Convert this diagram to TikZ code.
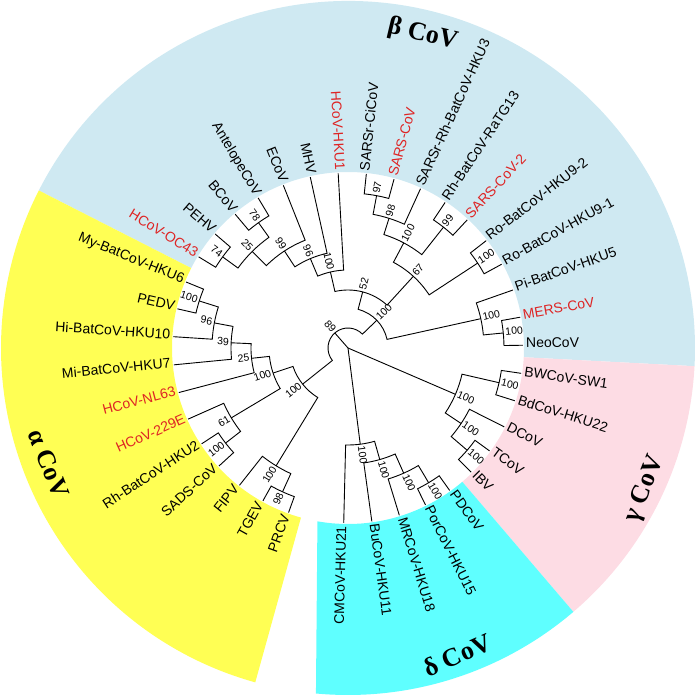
\documentclass[tikz,border=0pt]{standalone}
\usepackage{fontspec}
\setmainfont{Liberation Sans}
\newfontfamily\clfont{Liberation Serif}
\definecolor{betac}{RGB}{207,233,242}
\definecolor{alphac}{RGB}{255,255,84}
\definecolor{gammac}{RGB}{253,220,228}
\definecolor{deltac}{RGB}{95,255,255}
\definecolor{redlab}{RGB}{222,36,36}
\newcommand\getang[1]{\csname ang#1\endcsname}
\newcommand\mkleaf[4]{%
  \pgfmathsetmacro\lang{148.6-360/39*#2}%
  \ifnum#2>27 \pgfmathsetmacro\lang{\lang+360}\fi
  \expandafter\xdef\csname ang#1\endcsname{\lang}%
  \coordinate (#1) at (\lang:175);
  \pgfmathsetmacro\flipv{(\lang>90 || \lang<-90) ? 1 : 0}%
  \ifdim\flipv pt>0.5pt
    \node[leaflab,text=#4,rotate=\lang-180,anchor=mid east] (#1-t) at (\lang:178) {#3};
  \else
    \node[leaflab,text=#4,rotate=\lang,anchor=mid west] (#1-t) at (\lang:178) {#3};
  \fi
}
\newcommand\mkclade[5]{%
  \edef\angA{\getang{#3}}\edef\angB{\getang{#4}}%
  \pgfmathsetmacro\cmid{(\angA+\angB)/2}%
  \expandafter\xdef\csname ang#1\endcsname{\cmid}%
  \coordinate (#1) at (\cmid:#2);
  \draw[branch] (#3) -- (\angA:#2) arc[start angle=\angA, end angle=\angB, radius=#2] -- (#4);
  \pgfmathsetmacro\flipv{(\cmid>90 || \cmid<-90) ? 1 : 0}%
  \pgfmathsetmacro\rlab{#2+2}%
  \ifdim\flipv pt>0.5pt
    \node[bslab,rotate=\cmid-180,anchor=mid east] (#1-b) at (\cmid:\rlab) {#5};
  \else
    \node[bslab,rotate=\cmid,anchor=mid west] (#1-b) at (\cmid:\rlab) {#5};
  \fi
}
\begin{document}
\begin{tikzpicture}[x=1pt,y=1pt,
  branch/.style={line width=0.9pt, black, line join=miter},
  leaflab/.style={font=\fontsize{14}{16}\selectfont, inner sep=0pt},
  bslab/.style={font=\fontsize{10.5}{12}\selectfont, inner sep=0pt},
  cladelab/.style={font=\clfont\bfseries\fontsize{26}{28}\selectfont, inner sep=0pt}]
\useasboundingbox (-348,-349) rectangle (349,348);
% sectors
\fill[betac] (-3:176) arc[start angle=-3,end angle=153,radius=176] -- (153:347) arc[start angle=153,end angle=-3,radius=347] -- cycle;
\fill[gammac] (-49.5:176) arc[start angle=-49.5,end angle=-3,radius=176] -- (-3:347) arc[start angle=-3,end angle=-49.5,radius=347] -- cycle;
\fill[alphac] (153:176) arc[start angle=153,end angle=254.5,radius=176] -- (254.5:347) arc[start angle=254.5,end angle=153,radius=347] -- cycle;
\fill[deltac] (260:176) arc[start angle=260,end angle=310.5,radius=176] -- (310.5:347) arc[start angle=310.5,end angle=264.7,radius=347] -- cycle;
% leaves
\mkleaf{OCf}{0}{HCoV-OC43}{redlab}
\mkleaf{PEHV}{1}{PEHV}{black}
\mkleaf{BCoV}{2}{BCoV}{black}
\mkleaf{Ante}{3}{AntelopeCoV}{black}
\mkleaf{ECoV}{4}{ECoV}{black}
\mkleaf{MHV}{5}{MHV}{black}
\mkleaf{HKUone}{6}{HCoV-HKU1}{redlab}
\mkleaf{Civ}{7}{SARSr-CiCoV}{black}
\mkleaf{SARS}{8}{SARS-CoV}{redlab}
\mkleaf{HKUthree}{9}{SARSr-Rh-BatCoV-HKU3}{black}
\mkleaf{RaTG}{10}{Rh-BatCoV-RaTG13}{black}
\mkleaf{SARStwo}{11}{SARS-CoV-2}{redlab}
\mkleaf{NineTwo}{12}{Ro-BatCoV-HKU9-2}{black}
\mkleaf{NineOne}{13}{Ro-BatCoV-HKU9-1}{black}
\mkleaf{Five}{14}{Pi-BatCoV-HKU5}{black}
\mkleaf{MERS}{15}{MERS-CoV}{redlab}
\mkleaf{Neo}{16}{NeoCoV}{black}
\mkleaf{BW}{17}{BWCoV-SW1}{black}
\mkleaf{Bd}{18}{BdCoV-HKU22}{black}
\mkleaf{DCoV}{19}{DCoV}{black}
\mkleaf{TCoV}{20}{TCoV}{black}
\mkleaf{IBV}{21}{IBV}{black}
\mkleaf{PD}{22}{PDCoV}{black}
\mkleaf{Por}{23}{PorCoV-HKU15}{black}
\mkleaf{MR}{24}{MRCoV-HKU18}{black}
\mkleaf{Bu}{25}{BuCoV-HKU11}{black}
\mkleaf{CM}{26}{CMCoV-HKU21}{black}
\mkleaf{PRCV}{28}{PRCV}{black}
\mkleaf{TGEV}{29}{TGEV}{black}
\mkleaf{FIPV}{30}{FIPV}{black}
\mkleaf{SADS}{31}{SADS-CoV}{black}
\mkleaf{HKUtwo}{32}{Rh-BatCoV-HKU2}{black}
\mkleaf{TTN}{33}{HCoV-229E}{redlab}
\mkleaf{NL}{34}{HCoV-NL63}{redlab}
\mkleaf{Seven}{35}{Mi-BatCoV-HKU7}{black}
\mkleaf{Ten}{36}{Hi-BatCoV-HKU10}{black}
\mkleaf{PEDV}{37}{PEDV}{black}
\mkleaf{Six}{38}{My-BatCoV-HKU6}{black}
% beta
\mkclade{nSevFour}{155}{OCf}{PEHV}{74}
\mkclade{nSevEight}{154}{BCoV}{Ante}{78}
\mkclade{nTwoFiveB}{136}{nSevFour}{nSevEight}{25}
\mkclade{nNineNineB}{116}{nTwoFiveB}{ECoV}{99}
\mkclade{nNineSixB}{97}{nNineNineB}{MHV}{96}
\mkclade{nEmb}{78}{nNineSixB}{HKUone}{100}
\mkclade{nNineSeven}{155}{Civ}{SARS}{97}
\mkclade{nNineEight}{136}{nNineSeven}{HKUthree}{98}
\mkclade{nNineNineS}{154}{RaTG}{SARStwo}{99}
\mkclade{nSarb}{119}{nNineEight}{nNineNineS}{100}
\mkclade{nNob}{155}{NineTwo}{NineOne}{100}
\mkclade{nSixSeven}{97}{nSarb}{nNob}{67}
\mkclade{nFiveTwo}{58}{nEmb}{nSixSeven}{52}
\mkclade{nMN}{156}{MERS}{Neo}{100}
\mkclade{nMerb}{136}{Five}{nMN}{100}
\mkclade{nBeta}{40}{nFiveTwo}{nMerb}{100}
% gamma
\mkclade{nBW}{155}{BW}{Bd}{100}
\mkclade{nTI}{157}{TCoV}{IBV}{100}
\mkclade{nDT}{136}{DCoV}{nTI}{100}
\mkclade{nGam}{117}{nBW}{nDT}{100}
% delta
\mkclade{nPP}{157}{PD}{Por}{100}
\mkclade{nMRc}{137}{nPP}{MR}{100}
\mkclade{nBu}{116}{nMRc}{Bu}{100}
\mkclade{nDel}{97}{nBu}{CM}{100}
% alpha
\mkclade{nAone}{156}{Six}{PEDV}{100}
\mkclade{nNineSixA}{136}{nAone}{Ten}{96}
\mkclade{nThreeNine}{117}{nNineSixA}{Seven}{39}
\mkclade{nTwoFiveA}{97}{nThreeNine}{NL}{25}
\mkclade{nAthree}{155}{HKUtwo}{SADS}{100}
\mkclade{nSixOne}{136}{TTN}{nAthree}{61}
\mkclade{nAtwo}{79}{nTwoFiveA}{nSixOne}{100}
\mkclade{nNineEightA}{158}{TGEV}{PRCV}{98}
\mkclade{nT}{138}{FIPV}{nNineEightA}{100}
\mkclade{nAlpha}{58}{nAtwo}{nT}{100}
% root
\mkclade{nEightNine}{20}{nAlpha}{nBeta}{89}
\coordinate (root) at (0,0);
\draw[branch] (root) -- (nEightNine);
\draw[branch] (root) -- (nGam);
\draw[branch] (root) -- (nDel);
% clade names
\node[cladelab,rotate=-13.4] (betalab) at (76.6:322) {β CoV};
\node[cladelab,rotate=-68.8] (alphalab) at (201.2:321) {α CoV};
\node[cladelab,rotate=68] (gammalab) at (-25.4:329) {γ CoV};
\node[cladelab,rotate=24] (deltalab) at (-70.4:326) {δ CoV};
\end{tikzpicture}
\end{document}
